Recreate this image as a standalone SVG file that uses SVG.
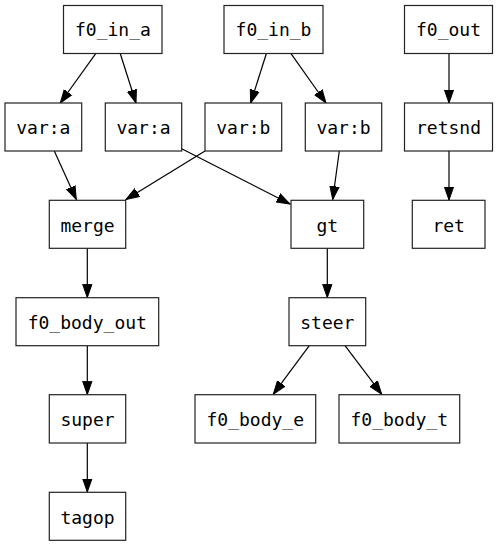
<svg xmlns="http://www.w3.org/2000/svg" width="498" height="547" viewBox="0 0 498 547">
<defs>
<marker id="arr" markerUnits="userSpaceOnUse" markerWidth="16" markerHeight="12" refX="13.3" refY="6" orient="auto" viewBox="0 0 16 12">
<path d="M0,1.33 L13.3,6 L0,10.67 Z" fill="#000" stroke="#000" stroke-width="1"/>
</marker>
<style>
.n rect{fill:#fff;stroke:#222;stroke-width:1.2}
.n text{font-family:"DejaVu Sans Mono",monospace;font-size:18px;fill:#000;text-anchor:middle}
.e line{stroke:#000;stroke-width:1.2;marker-end:url(#arr)}
</style>
</defs>
<rect width="498" height="547" fill="#fff"/>
<g id="connectors" class="e">
<line x1="95.7" y1="53.7" x2="60.3" y2="103"/>
<line x1="120.3" y1="53.7" x2="136" y2="103"/>
<line x1="266.3" y1="53.7" x2="250.7" y2="103"/>
<line x1="291" y1="53.7" x2="326" y2="103"/>
<line x1="449" y1="53.7" x2="449" y2="103"/>
<line x1="54.3" y1="151" x2="76.3" y2="199.5"/>
<line x1="205" y1="151" x2="126" y2="199.5"/>
<line x1="181.7" y1="148.7" x2="290" y2="204"/>
<line x1="339.3" y1="151" x2="332.7" y2="199.5"/>
<line x1="449" y1="151" x2="449" y2="200"/>
<line x1="87.3" y1="248.3" x2="87.3" y2="297.5"/>
<line x1="327.3" y1="248.3" x2="327.3" y2="297.5"/>
<line x1="87.3" y1="345.7" x2="87.3" y2="394.5"/>
<line x1="87.3" y1="443" x2="87.3" y2="492"/>
<line x1="309.3" y1="345.7" x2="273.3" y2="394.2"/>
<line x1="345" y1="345.7" x2="381.7" y2="394.2"/>
</g>
<g id="f0_in_a" class="n"><rect x="63.5" y="5.5" width="98.5" height="48"/><text x="112.9" y="36">f0_in_a</text></g>
<g id="f0_in_b" class="n"><rect x="224" y="5.5" width="99" height="48"/><text x="273.5" y="36">f0_in_b</text></g>
<g id="f0_out" class="n"><rect x="404.5" y="5.5" width="88" height="48"/><text x="448.5" y="36">f0_out</text></g>
<g id="var_a_1" class="n"><rect x="5" y="103" width="76.7" height="48"/><text x="43.3" y="134">var:a</text></g>
<g id="var_a_2" class="n"><rect x="105.3" y="103" width="76.4" height="48"/><text x="143.5" y="134">var:a</text></g>
<g id="var_b_1" class="n"><rect x="205" y="103" width="76.7" height="48"/><text x="243.3" y="134">var:b</text></g>
<g id="var_b_2" class="n"><rect x="305.3" y="103" width="76.4" height="48"/><text x="343.5" y="134">var:b</text></g>
<g id="retsnd" class="n"><rect x="404.5" y="103" width="88" height="48"/><text x="448.5" y="134">retsnd</text></g>
<g id="merge" class="n"><rect x="49.3" y="200.3" width="76.4" height="48"/><text x="87.5" y="231.5">merge</text></g>
<g id="gt" class="n"><rect x="291" y="200.3" width="72.7" height="48"/><text x="327.3" y="231.5">gt</text></g>
<g id="ret" class="n"><rect x="412.3" y="200.3" width="72.7" height="48"/><text x="448.7" y="231.5">ret</text></g>
<g id="f0_body_out" class="n"><rect x="16" y="297.7" width="142.7" height="48"/><text x="87.3" y="329">f0_body_out</text></g>
<g id="steer" class="n"><rect x="289" y="297.7" width="76.7" height="48"/><text x="327.3" y="329">steer</text></g>
<g id="super" class="n"><rect x="49.3" y="394.7" width="76.4" height="48.3"/><text x="87.5" y="426">super</text></g>
<g id="f0_body_e" class="n"><rect x="195" y="394.7" width="120.7" height="48.3"/><text x="255.3" y="426">f0_body_e</text></g>
<g id="f0_body_t" class="n"><rect x="339" y="394.7" width="120.7" height="48.3"/><text x="399.3" y="426">f0_body_t</text></g>
<g id="tagop" class="n"><rect x="49.3" y="492.3" width="76.4" height="48"/><text x="87.5" y="523.5">tagop</text></g>
</svg>
